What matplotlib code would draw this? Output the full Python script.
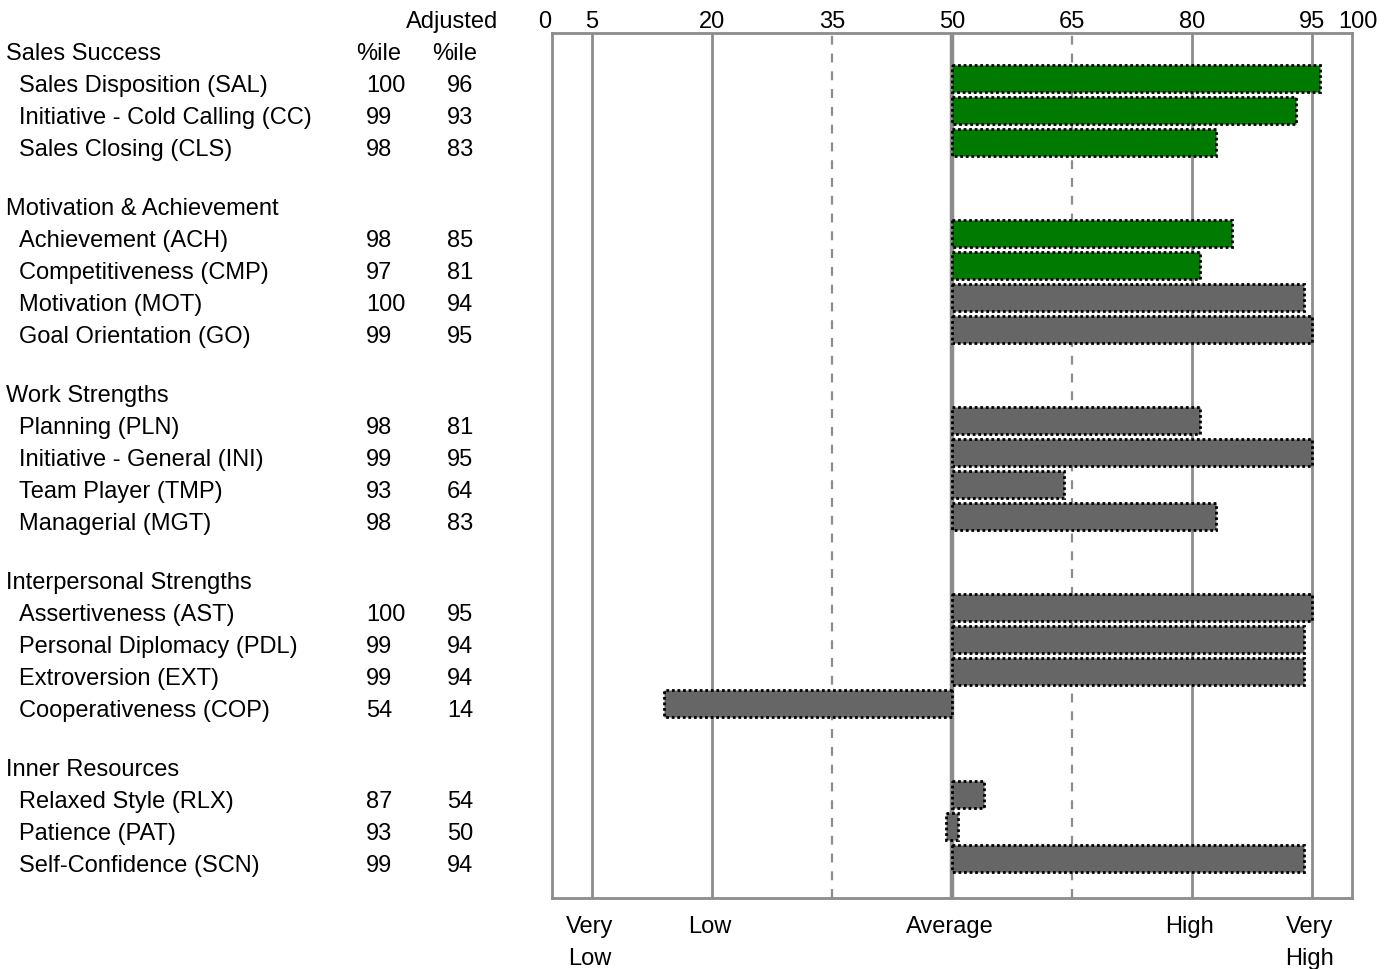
import matplotlib.pyplot as plt
import matplotlib.transforms as mtransforms

plt.rcParams['font.family'] = ['Liberation Sans', 'DejaVu Sans']

# data
groups = ["Sales Success", "Motivation & Achievement", "Work Strengths",
          "Interpersonal Strengths", "Inner Resources"]
labels = [
    ["Sales Disposition (SAL)", "Initiative - Cold Calling (CC)", "Sales Closing (CLS)"],
    ["Achievement (ACH)", "Competitiveness (CMP)", "Motivation (MOT)", "Goal Orientation (GO)"],
    ["Planning (PLN)", "Initiative - General (INI)", "Team Player (TMP)", "Managerial (MGT)"],
    ["Assertiveness (AST)", "Personal Diplomacy (PDL)", "Extroversion (EXT)", "Cooperativeness (COP)"],
    ["Relaxed Style (RLX)", "Patience (PAT)", "Self-Confidence (SCN)"],
]
pct = [[100, 99, 98], [98, 97, 100, 99], [98, 99, 93, 98], [100, 99, 99, 54], [87, 93, 99]]
adj = [[96, 93, 83], [85, 81, 94, 95], [81, 95, 64, 83], [95, 94, 94, 14], [54, 50, 94]]
green_codes = ["SAL", "CC", "CLS", "ACH", "CMP"]

ticks_top = [0, 5, 20, 35, 50, 65, 80, 95, 100]
solid_lines = [5, 20, 80, 95]
dashed_lines = [35, 65]
band_labels = ["Very\nLow", "Low", "Average", "High", "Very\nHigh"]
band_pos = [5, 20, 50, 80, 95]

W, H = 1396, 969
fig = plt.figure(figsize=(W / 100, H / 100), dpi=100)
ax = fig.add_axes([552 / W, (H - 898) / H, 800 / W, 865 / H])
ax.set_xlim(0, 100)
ax.set_ylim(898, 33)  # y in pixel rows from top
ax.set_xticks([])
ax.set_yticks([])
for s in ax.spines.values():
    s.set_color('#8c8c8c')
    s.set_linewidth(2)

gc = '#8c8c8c'
for v in solid_lines:
    ax.axvline(v, color=gc, lw=2, zorder=1)
ax.axvline(50, color=gc, lw=3.2, zorder=1)
for v in dashed_lines:
    ax.axvline(v, color=gc, lw=1.6, ls=(0, (4, 4)), zorder=1)

left = mtransforms.blended_transform_factory(fig.transFigure, ax.transData)
fs = 17
dy = 2  # nudge text down to match the reference baseline


def txt(x, y, s, **kw):
    ax.text(x, y + dy, s, va='center', fontsize=fs, clip_on=False, **kw)


# column headers
txt(452 / W, 20, "Adjusted", transform=left, ha='center')
for t in ticks_top:
    xo = {0: -0.9, 100: 0.8}.get(t, 0)
    txt(t + xo, 20, str(t), ha='center')
for p, t in zip(band_pos, band_labels):
    for k, line in enumerate(t.split('\n')):
        txt(p - 0.3, 925 + 32 * k, line, ha='center')

y = 52
for gi, g in enumerate(groups):
    if gi > 0:
        y += 59
    txt(6 / W, y, g, transform=left, ha='left')
    if gi == 0:
        txt(379 / W, y, "%ile", transform=left, ha='center')
        txt(455 / W, y, "%ile", transform=left, ha='center')
    for lab, p, a in zip(labels[gi], pct[gi], adj[gi]):
        y += 32
        txt(19 / W, y, lab, transform=left, ha='left')
        txt(366 / W, y, str(p), transform=left, ha='left')
        txt(447 / W, y, str(a), transform=left, ha='left')
        code = lab.split('(')[-1].rstrip(')')
        col = '#007a00' if code in green_codes else '#666666'
        if a == 50:
            start, width = 49.3, 1.4
        else:
            start, width = 50, a - 50
        ax.barh(y - 5.5, width, left=start, height=27, color=col, edgecolor='black',
                linewidth=2, linestyle=(0, (1, 1)), zorder=3)

fig.savefig('out.png', dpi=100)
